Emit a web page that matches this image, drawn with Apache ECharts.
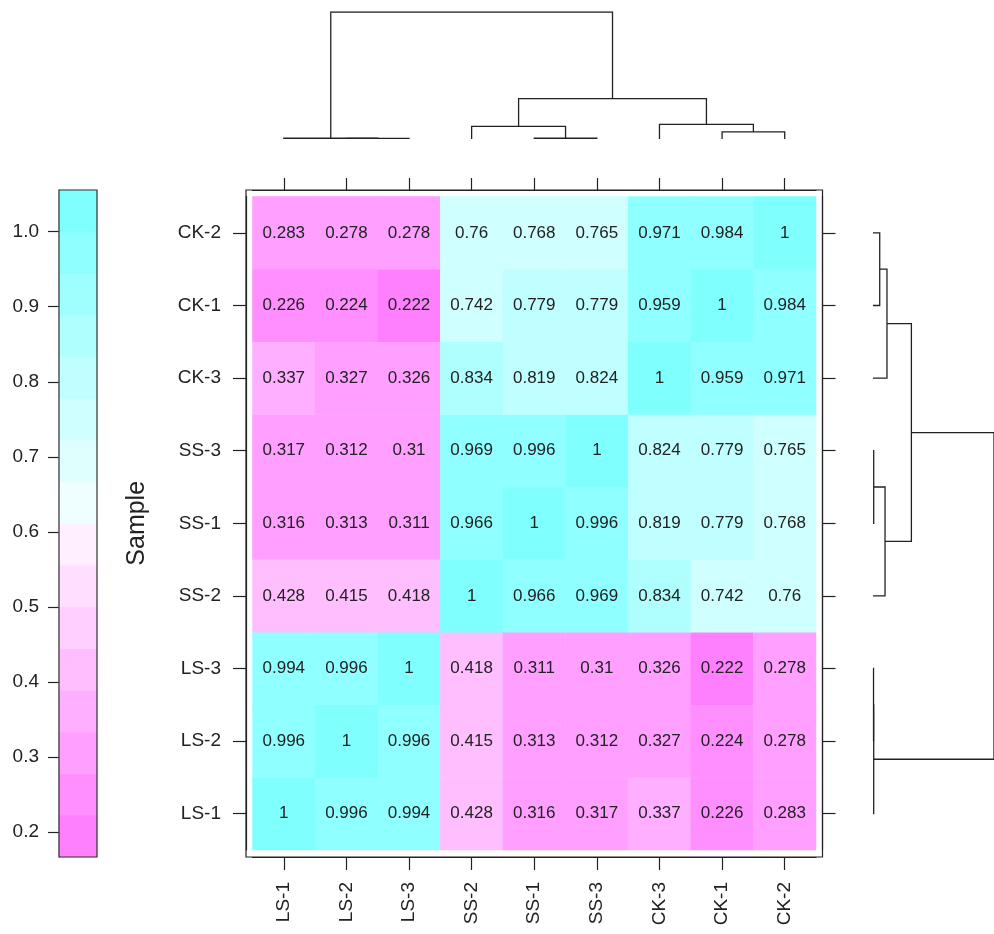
<!DOCTYPE html>
<html>
<head>
<meta charset="utf-8">
<script src="https://cdn.jsdelivr.net/npm/echarts@6/dist/echarts.min.js"></script>
<style>
    html, body { margin: 0; padding: 0; background: #fff; }
    #chart { width: 994px; height: 934px; }
</style>
</head>
<body>
<div id="chart"></div>
<script>
// sample order along both axes (x: left to right, y: bottom to top)
const sampleOrder = ['LS-1', 'LS-2', 'LS-3', 'SS-2', 'SS-1', 'SS-3', 'CK-3', 'CK-1', 'CK-2'];

// correlation of each row sample against the columns in sampleOrder
const corLS1 = [1, 0.996, 0.994, 0.428, 0.316, 0.317, 0.337, 0.226, 0.283];
const corLS2 = [0.996, 1, 0.996, 0.415, 0.313, 0.312, 0.327, 0.224, 0.278];
const corLS3 = [0.994, 0.996, 1, 0.418, 0.311, 0.31, 0.326, 0.222, 0.278];
const corSS2 = [0.428, 0.415, 0.418, 1, 0.966, 0.969, 0.834, 0.742, 0.76];
const corSS1 = [0.316, 0.313, 0.311, 0.966, 1, 0.996, 0.819, 0.779, 0.768];
const corSS3 = [0.317, 0.312, 0.31, 0.969, 0.996, 1, 0.824, 0.779, 0.765];
const corCK3 = [0.337, 0.327, 0.326, 0.834, 0.819, 0.824, 1, 0.959, 0.971];
const corCK1 = [0.226, 0.224, 0.222, 0.742, 0.779, 0.779, 0.959, 1, 0.984];
const corCK2 = [0.283, 0.278, 0.278, 0.76, 0.768, 0.765, 0.971, 0.984, 1];
const corRows = [corLS1, corLS2, corLS3, corSS2, corSS1, corSS3, corCK3, corCK1, corCK2];

// colour key: 16 levels, magenta -> white -> cyan
const levelBreaks = [0.1665, 0.2225, 0.2776, 0.3331, 0.3887, 0.4443, 0.4999, 0.5554, 0.6110,
    0.6666, 0.7221, 0.7777, 0.8333, 0.8889, 0.9444, 0.9995, 1.0556];
const levelColors = ['#FF80FF', '#FF8FFF', '#FF9FFF', '#FFAFFF', '#FFBFFF', '#FFCFFF', '#FFDFFF', '#FFEFFF',
    '#EFFFFF', '#DFFFFF', '#CFFFFF', '#BFFFFF', '#AFFFFF', '#9FFFFF', '#8FFFFF', '#80FFFF'];
const keyTicks = [0.2, 0.3, 0.4, 0.5, 0.6, 0.7, 0.8, 0.9, 1.0];

// clustering (hclust style): negative = leaf number (1-based in sampleOrder), positive = earlier merge
const mergeLeft = [-2, -1, -5, -4, -8, -7, 4, 2];
const mergeRight = [-3, 1, -6, 3, -9, 5, 6, 7];
const mergeHeight = [0.003, 0.004, 0.004, 0.068, 0.038, 0.079, 0.217, 0.684];

const FONT = 'Liberation Sans';
const INK = '#222';

const heatData = [];
corRows.forEach((row, yi) => row.forEach((v, xi) => heatData.push([xi, yi, v])));

// dendrogram branches as [position, height] polylines
function dendroBranches() {
    const pos = [];
    const node = (id) => id < 0 ? { p: -id - 1, h: 0 } : { p: pos[id - 1], h: mergeHeight[id - 1] };
    const out = [];
    mergeLeft.forEach((l, i) => {
        const a = node(l);
        const b = node(mergeRight[i]);
        const H = mergeHeight[i];
        pos.push((a.p + b.p) / 2);
        out.push([[a.p, a.h], [a.p, H], [b.p, H], [b.p, b.h]]);
    });
    return out;
}
const branches = dendroBranches();
const rootH = mergeHeight[mergeHeight.length - 1];

const chart = echarts.init(document.getElementById('chart'));

const hiddenVal = (grid, min, max) => ({ type: 'value', gridIndex: grid, min, max, show: false });
const lineStyle = { color: INK, width: 1.2 };

// category axis sitting on the panel frame, ticks outward at cell centres
function sampleAxis(position, offset, tickLen, label) {
    return {
        type: 'category', gridIndex: 1, data: sampleOrder, position, offset,
        axisLine: { show: true, lineStyle },
        axisTick: { show: true, alignWithLabel: true, length: tickLen, lineStyle },
        axisLabel: label || { show: false },
    };
}

chart.setOption({
    animation: false,
    backgroundColor: '#fff',
    textStyle: { fontFamily: FONT },
    grid: [
        // panel frame
        { left: 246, top: 190, width: 576.5, height: 667, show: true, borderColor: INK, borderWidth: 1.2, backgroundColor: 'transparent' },
        // cells
        { left: 252.5, top: 196.6, width: 563.5, height: 653.4 },
        // colour key
        { left: 59, top: 190, width: 38, height: 667, show: true, borderColor: '#333', borderWidth: 1.2, z: 10 },
        // top dendrogram
        { left: 252.5, top: 12, width: 563.5, height: 127 },
        // right dendrogram
        { left: 873, top: 196.6, width: 127, height: 653.4 },
    ],
    xAxis: [
        hiddenVal(0, 0, 1),
        sampleAxis('bottom', 7, 13, { rotate: 90, margin: 25, fontSize: 19, color: INK }),
        sampleAxis('top', 6.6, 12),
        hiddenVal(2, 0, 1),
        hiddenVal(3, -0.5, sampleOrder.length - 0.5),
        hiddenVal(4, 0, rootH),
    ],
    yAxis: [
        hiddenVal(0, 0, 1),
        {
            ...sampleAxis('left', 6.5, 13, { margin: 25, fontSize: 19, color: INK }),
            name: 'Sample', nameLocation: 'middle', nameRotate: 90, nameGap: 96,
            nameTextStyle: { fontSize: 25, color: INK },
        },
        sampleAxis('right', 6.5, 13),
        {
            type: 'value', gridIndex: 2, min: levelBreaks[0], max: levelBreaks[levelBreaks.length - 1],
            axisLine: { show: true, lineStyle },
            splitLine: { show: false },
            axisTick: { show: true, customValues: keyTicks, length: 11, lineStyle },
            axisLabel: { customValues: keyTicks, margin: 20, fontSize: 19, color: INK, formatter: v => v.toFixed(1) },
        },
        hiddenVal(3, 0, rootH),
        hiddenVal(4, -0.5, sampleOrder.length - 0.5),
    ],
    visualMap: {
        type: 'piecewise', show: false, seriesIndex: 0, dimension: 2,
        pieces: levelColors.map((c, i) => ({ gte: levelBreaks[i], lt: levelBreaks[i + 1], color: c })),
    },
    series: [
        {
            type: 'heatmap', xAxisIndex: 1, yAxisIndex: 1, data: heatData,
            label: { show: true, fontSize: 17, color: INK, formatter: p => String(p.value[2]) },
            emphasis: { disabled: true },
        },
        {
            type: 'custom', xAxisIndex: 3, yAxisIndex: 3,
            data: levelColors.map((c, i) => [0, levelBreaks[i], 1, levelBreaks[i + 1]]),
            encode: { x: [0, 2], y: [1, 3] },
            renderItem: (params, api) => {
                const p0 = api.coord([api.value(0), api.value(1)]);
                const p1 = api.coord([api.value(2), api.value(3)]);
                const fill = levelColors[params.dataIndex];
                return {
                    type: 'rect',
                    shape: { x: p0[0], y: p1[1], width: p1[0] - p0[0], height: p0[1] - p1[1] },
                    style: { fill, stroke: fill, lineWidth: 0.6 },
                };
            },
        },
        {
            type: 'lines', coordinateSystem: 'cartesian2d', xAxisIndex: 4, yAxisIndex: 4, polyline: true,
            lineStyle: { color: INK, width: 1.3, opacity: 1 },
            data: branches.map(b => ({ coords: b })),
        },
        {
            type: 'lines', coordinateSystem: 'cartesian2d', xAxisIndex: 5, yAxisIndex: 5, polyline: true,
            lineStyle: { color: INK, width: 1.3, opacity: 1 },
            data: branches.map(b => ({ coords: b.map(([p, h]) => [h, p]) })),
        },
    ],
});
</script>
</body>
</html>
